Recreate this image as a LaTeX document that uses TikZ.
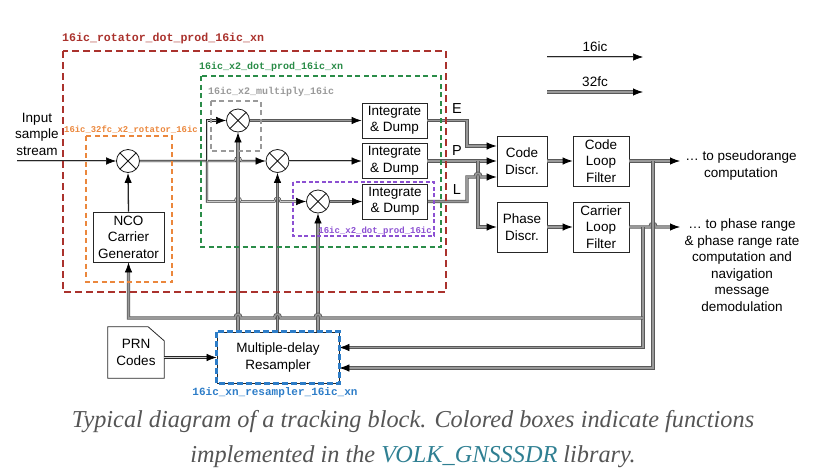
\documentclass[tikz,border=0pt]{standalone}
\usepackage{fontspec}
\setmainfont{Liberation Serif}
\setsansfont{Liberation Sans}
\setmonofont{Liberation Mono}
\usepackage{tikz}
\usetikzlibrary{arrows.meta, calc, positioning}

\definecolor{rotred}{HTML}{AA322D}
\definecolor{dotgreen}{HTML}{2A8C48}
\definecolor{mulgray}{HTML}{9A9A9A}
\definecolor{rotorange}{HTML}{EB873C}
\definecolor{dotpurple}{HTML}{8C50D2}
\definecolor{rsmblue}{HTML}{2D7DC8}
\definecolor{linkteal}{HTML}{2F7F92}
\definecolor{captext}{HTML}{555555}

\tikzset{
  blk/.style={draw=black!85, line width=0.8pt, fill=white, align=center, inner sep=1pt,
    font=\sffamily\fontsize{13.5}{16.5}\selectfont},
  txt/.style={align=center, inner sep=0pt, font=\sffamily\fontsize{13.5}{16.5}\selectfont},
  mix/.style={circle, draw=black!90, line width=0.8pt, fill=white, minimum size=23pt, inner sep=0pt,
    path picture={\draw[line width=0.8pt]
      (path picture bounding box.north west) -- (path picture bounding box.south east)
      (path picture bounding box.north east) -- (path picture bounding box.south west);}},
  tag/.style={inner sep=0pt},
  s16/.style={draw=black!85, line width=0.6pt, double=black!20, double distance=1pt},
  s32/.style={draw=black!65, line width=0.8pt, double=black!40, double distance=1.6pt},
  ahead/.style={-{Latex[length=10pt,width=7.5pt,color=black]}},
  hop/.style={insert path={.. controls +(0,-5) and +(0,-5) .. ++(6,0)}},
  hopl/.style={insert path={.. controls +(0,-5) and +(0,-5) .. ++(-6,0)}}
}

\begin{document}
\begin{tikzpicture}[x=1pt, y=-1pt]
  \useasboundingbox (0,0) rectangle (825,472);

  % blocks
  \node[txt] (inlbl) at (37,134) {Input\\sample\\stream};
  \node[mix] (mrot) at (128,161) {};
  \node[blk, minimum width=71, minimum height=50] (nco) at (128.5,237) {NCO\\Carrier\\Generator};
  \node[mix] (mE) at (238,120.5) {};
  \node[mix] (mP) at (277.5,161) {};
  \node[mix] (mL) at (318,201.5) {};
  \node[blk, minimum width=65, minimum height=35] (ide) at (394.5,120.5) {Integrate\\\& Dump};
  \node[blk, minimum width=65, minimum height=35] (idp) at (394.5,161) {Integrate\\\& Dump};
  \node[blk, minimum width=65, minimum height=35] (idl) at (395,201.5) {Integrate\\\& Dump};
  \node[blk, minimum width=50, minimum height=50] (codd) at (522,161) {Code\\Discr.};
  \node[blk, minimum width=50, minimum height=50] (phd) at (522,227) {Phase\\Discr.};
  \node[blk, minimum width=56, minimum height=50] (clf) at (601,161) {Code\\Loop\\Filter};
  \node[blk, minimum width=56, minimum height=50] (cal) at (601,227) {Carrier\\Loop\\Filter};
  \node[blk, minimum width=122, minimum height=51] (rsm) at (278,357.5) {Multiple-delay\\Resampler};
  \node[txt, minimum width=56, minimum height=51] (prn) at (136,352.5) {PRN\\Codes};
  \draw[line width=0.8pt, black!85] (prn.north west) -- ([xshift=-16pt]prn.north east)
    -- ([yshift=-14pt]prn.north east) -- (prn.south east) -- (prn.south west) -- cycle;
  \node[txt] (pr) at (741,165.5) {… to pseudorange\\computation};
  \node[txt] (ph) at (742,265) {… to phase range\\\& phase range rate\\computation and\\navigation\\message\\demodulation};

  % legend
  \coordinate (k1a) at (547,57);
  \coordinate (k1b) at (643,57);
  \coordinate (k2a) at (547,92);
  \coordinate (k2b) at (643,92);
  \draw[s16, ahead] (k1a) -- (k1b) node[txt, midway, above=5pt] {16ic};
  \draw[s32, ahead] (k2a) -- (k2b) node[txt, midway, above=5pt] {32fc};

  % front end
  \coordinate (inp) at (17,161);
  \coordinate (spl) at (207,161);
  \draw[s16, ahead] (inp) -- (mrot.west);
  \draw[line width=1.3pt, black!85, ahead] (nco.north) -- (mrot.south);
  \draw[s16, ahead] (mrot.east) -- ($(mE |- mrot)+(-3,0)$) [hop] -- (mP.west);
  \draw[s16, ahead] (spl) -- (spl |- mE) -- (mE.west);
  \draw[s16, ahead] (spl) -- (spl |- mL) -- ($(mE |- mL)+(-3,0)$) [hop]
    -- ($(mP |- mL)+(-3,0)$) [hop] -- (mL.west);
  \draw[s32, ahead] (rsm.north -| mE) -- (mE.south);
  \draw[s32, ahead] (rsm.north -| mP) -- (mP.south);
  \draw[s32, ahead] (rsm.north -| mL) -- (mL.south);
  \draw[s32, ahead] (mE) -- (ide);
  \draw[s16, ahead] (mP) -- (idp);
  \draw[s32, ahead] (mL) -- (idl);

  % early, prompt, late
  \coordinate (eb) at (467,120);
  \coordinate (pb) at (478,161);
  \draw[s32, ahead] (ide.east) -- (ide.east -| eb) -- ($(eb |- codd)+(0,-15)$) -- ($(codd.west)+(0,-15)$);
  \draw[s32, ahead] (idp.east) -- (codd.west);
  \draw[s32, ahead] (pb) -- (pb |- phd) -- (phd.west);
  \draw[s32, ahead] (idl.east) -- (idl.east -| eb) -- ($(eb |- codd)+(0,16)$)
    -- ($(pb |- codd)+(-3,16)$) [hop] -- ($(codd.west)+(0,16)$);
  \node[txt, font=\sffamily\fontsize{14.5}{16}\selectfont] (lE) at (457,109) {E};
  \node[txt, font=\sffamily\fontsize{14.5}{16}\selectfont] (lP) at (457,151) {P};
  \node[txt, font=\sffamily\fontsize{14.5}{16}\selectfont] (lL) at (457,190) {L};

  % loops
  \coordinate (o1) at (680,161);
  \coordinate (o2) at (680,227);
  \coordinate (cb) at (653,161);
  \coordinate (kb) at (643,227);
  \coordinate (nb) at (643,318);
  \draw[s32, ahead] (codd) -- (clf);
  \draw[s32, ahead] (phd) -- (cal);
  \draw[s32, ahead] (clf.east) -- (o1);
  \draw[s32, ahead] (cal.east) -- ($(cb |- cal)+(-3,0)$) [hop] -- (o2);
  \draw[s32, ahead] (cb) -- ($(cb |- rsm.east)+(0,10.5)$) -- ($(rsm.east)+(0,10.5)$);
  \draw[s32, ahead] (kb) -- ($(kb |- rsm.east)+(0,-10)$) -- ($(rsm.east)+(0,-10)$);
  \draw[s32, ahead] (nb) -- ($(mL |- nb)+(3,0)$) [hopl] -- ($(mP |- nb)+(3,0)$) [hopl]
    -- ($(mE |- nb)+(3,0)$) [hopl] -- (nco |- nb) -- (nco.south);
  \draw[s16, ahead] (prn.east |- rsm) -- (rsm.west);

  % library boxes
  \draw[rotred, line width=2.6pt, dash pattern=on 7pt off 4pt] (63,51) rectangle (446,292);
  \node[tag, rotred, anchor=west, font=\ttfamily\bfseries\fontsize{11.6}{12}\selectfont] (trot) at (62,38) {16ic\_rotator\_dot\_prod\_16ic\_xn};
  \draw[dotgreen, line width=2pt, dash pattern=on 5pt off 3.5pt] (201,76) rectangle (441,247);
  \node[tag, dotgreen, anchor=west, font=\ttfamily\bfseries\fontsize{10}{12}\selectfont] (tdot) at (199,66.5) {16ic\_x2\_dot\_prod\_16ic\_xn};
  \draw[mulgray, line width=2pt, dash pattern=on 5pt off 3.5pt] (211,101) rectangle (261,151);
  \node[tag, mulgray, anchor=west, font=\ttfamily\bfseries\fontsize{10}{12}\selectfont] (tmul) at (208,92) {16ic\_x2\_multiply\_16ic};
  \draw[rotorange, line width=2pt, dash pattern=on 5pt off 3.5pt] (86,136) rectangle (172,282);
  \node[tag, rotorange, anchor=west, font=\ttfamily\bfseries\fontsize{8.9}{10}\selectfont] (tnco) at (64,129.5) {16ic\_32fc\_x2\_rotator\_16ic};
  \draw[dotpurple, line width=1.5pt, dash pattern=on 4pt off 2.5pt] (293,182) rectangle (434,236);
  \node[tag, dotpurple, anchor=east, font=\ttfamily\bfseries\fontsize{9}{10}\selectfont] (tone) at (432,231) {16ic\_x2\_dot\_prod\_16ic};
  \draw[rsmblue, line width=2.5pt, dash pattern=on 6pt off 3pt] (rsm.north west) rectangle (rsm.south east);
  \node[tag, rsmblue, font=\ttfamily\bfseries\fontsize{11}{12}\selectfont] (trsm) at (275,393) {16ic\_xn\_resampler\_16ic\_xn};

  % caption
  \node[align=center, inner sep=0pt, text=captext, font=\itshape\fontsize{24.3}{35}\selectfont] (cap) at (413,439)
    {Typical diagram of a tracking block. Colored boxes indicate functions\\implemented in the \textcolor{linkteal}{VOLK\_GNSSSDR} library.};
\end{tikzpicture}
\end{document}
